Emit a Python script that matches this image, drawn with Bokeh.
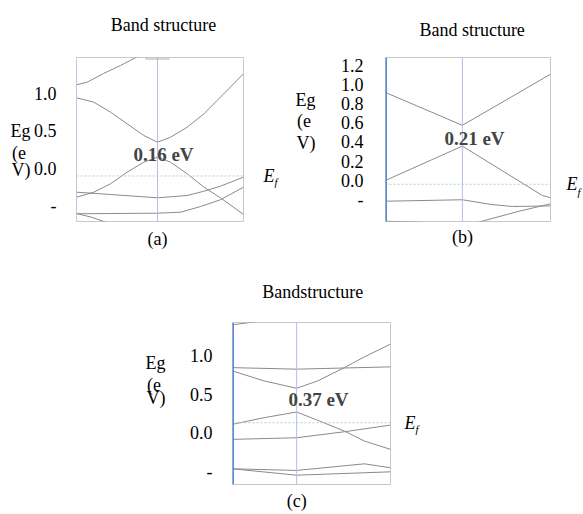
from bokeh.plotting import figure
from bokeh.models import Range1d, FixedTicker, Label, Span, Spacer, LinearAxis
from bokeh.layouts import column, row
from bokeh.embed import file_html
from bokeh.resources import INLINE

SERIF = "Liberation Serif"

# ---------------- data ----------------
# panel (a)
A_TITLE = "Band structure"
A_GAP = "0.16 eV"
A_TICKS = [-0.5, 0.0, 0.5, 1.0]
A_TICK_LABELS = ["-", "0.0", "0.5", "1.0"]
A_YLIM = [-0.707, 1.48]
A_GAMMA = 0.485
A_EF = -0.1
A1_K = [0.0, 0.064, 0.162, 0.263, 0.353, 0.42]
A1_E = [1.116, 1.151, 1.267, 1.373, 1.476, 1.56]
A2_K = [0.0, 0.104, 0.204, 0.303, 0.403, 0.485, 0.563, 0.663, 0.763, 0.862, 1.0]
A2_E = [0.943, 0.884, 0.751, 0.596, 0.44, 0.35, 0.417, 0.551, 0.729, 0.951, 1.263]
A3_K = [0.0, 0.104, 0.204, 0.303, 0.403, 0.485, 0.563, 0.663, 0.763, 0.862, 1.0]
A3_E = [-0.383, -0.316, -0.204, -0.049, 0.084, 0.151, 0.084, -0.071, -0.249, -0.391, -0.613]
A4_K = [0.0, 0.204, 0.485, 0.663, 0.763, 0.862, 1.0]
A4_E = [-0.316, -0.347, -0.391, -0.36, -0.303, -0.236, -0.116]
A5_K = [0.0, 0.485, 0.623, 0.743, 0.862, 1.0]
A5_E = [-0.604, -0.596, -0.583, -0.507, -0.417, -0.249]
A6_K = [0.0, 0.09, 0.18]
A6_E = [-0.6, -0.65, -0.72]
A_YLABEL_POS = [0.5, 0.211, -0.025]
A_SUB_POS = -0.175
A_TITLE_K = 0.521

# panel (b)
B_TITLE = "Band structure"
B_GAP = "0.21 eV"
B_TICKS = [-0.2, 0.0, 0.2, 0.4, 0.6, 0.8, 1.0, 1.2]
B_TICK_LABELS = ["-", "0.0", "0.2", "0.4", "0.6", "0.8", "1.0", "1.2"]
B_YLIM = [-0.427, 1.278]
B_GAMMA = 0.466
B_EF = -0.04
B1_K = [0.0, 0.466, 1.0]
B1_E = [0.914, 0.573, 1.104]
B2_K = [0.0, 0.466, 0.95, 1.0]
B2_E = [0.0, 0.357, -0.156, -0.18]
B3_K = [0.0, 0.466, 0.64, 0.77, 1.0]
B3_E = [-0.216, -0.201, -0.25, -0.271, -0.265]
B4_K = [0.55, 0.81, 1.0]
B4_E = [-0.44, -0.32, -0.243]
B5_K = [0.0, 0.21, 0.3]
B5_E = [-0.424, -0.434, -0.45]
B_YLABEL_POS = [0.834, 0.619, 0.394]
B_SUB_POS = -0.12
B_TITLE_K = 0.525

# panel (c)
C_TITLE = "Bandstructure"
C_GAP = "0.37 eV"
C_TICKS = [-0.5, 0.0, 0.5, 1.0]
C_TICK_LABELS = ["-", "0.0", "0.5", "1.0"]
C_YLIM = [-0.673, 1.434]
C_GAMMA = 0.406
C_EF = 0.13
C1_K = [0.0, 0.159, 0.2]
C1_E = [1.404, 1.447, 1.47]
C2_K = [0.0, 0.406, 1.0]
C2_E = [0.847, 0.827, 0.857]
C3_K = [0.0, 0.2, 0.406, 0.539, 0.708, 0.835, 1.0]
C3_E = [0.804, 0.674, 0.579, 0.674, 0.847, 0.987, 1.153]
C4_K = [0.0, 0.2, 0.406, 0.539, 0.708, 0.835, 1.0]
C4_E = [0.11, 0.196, 0.27, 0.162, 0.022, -0.108, -0.216]
C5_K = [0.0, 0.406, 0.708, 1.0]
C5_E = [-0.086, -0.065, 0.013, 0.1]
C6_K = [0.0, 0.406, 0.835, 1.0]
C6_E = [-0.469, -0.49, -0.404, -0.456]
C7_K = [0.0, 0.406, 1.0]
C7_E = [-0.469, -0.552, -0.508]
C_YLABEL_POS = [0.907, 0.625, 0.45]
C_SUB_POS = 0.05
C_TITLE_K = 0.508

YLABEL_LINES = ["Eg", "(e\u00a0", "V)"]
PANEL_TAGS = ["(a)", "(b)", "(c)"]

BAND_COLOR = "#8a8a8a"


def style_axis(ax, ticks, labels, standoff, size="18px", style="normal"):
    ax.ticker = FixedTicker(ticks=ticks)
    ax.major_label_overrides = dict(zip(ticks, labels))
    ax.axis_line_color = None
    ax.major_tick_line_color = None
    ax.minor_tick_line_color = None
    ax.major_tick_in = 0
    ax.major_tick_out = 0
    ax.major_label_standoff = standoff
    ax.major_label_text_font = SERIF
    ax.major_label_text_font_size = size
    ax.major_label_text_font_style = style
    ax.major_label_text_color = "black"
    return ax


def panel(width, height, borders, ylim, ticks, labels, standoff, bands,
          gamma, ef, edge_color, edge_width, title, title_k, title_standoff,
          tag, tag_standoff, ylab_pos, ylab_standoff,
          ef_standoff, sub_pos, gap, gap_xy):
    p = figure(width=width, height=height, x_range=Range1d(0, 1),
               y_range=Range1d(ylim[0], ylim[1]), output_backend="svg",
               toolbar_location=None, min_border_left=borders[0],
               min_border_right=borders[1], min_border_top=borders[2],
               min_border_bottom=borders[3])
    p.grid.visible = False
    p.title.visible = False
    xa = p.below[0]
    ya = p.left[0]
    # energy tick labels
    style_axis(ya, ticks, labels, standoff)
    # panel tag under the Gamma point
    style_axis(xa, [gamma], [tag], tag_standoff)
    # panel heading above the frame
    p.add_layout(style_axis(LinearAxis(), [title_k], [title], title_standoff),
                 "above")
    # wrapped axis title "Eg (eV)"
    p.add_layout(style_axis(LinearAxis(), ylab_pos, YLABEL_LINES,
                            ylab_standoff), "left")
    # Fermi level label on the right
    p.add_layout(style_axis(LinearAxis(), [ef], ["E"], ef_standoff,
                            style="italic"), "right")
    if sub_pos is not None:
        p.add_layout(style_axis(LinearAxis(), [sub_pos], ["f"], -3,
                                size="11px", style="italic"), "right")

    p.outline_line_color = "#c8c8c8"
    p.background_fill_color = "white"
    p.border_fill_color = "white"
    p.add_layout(Span(location=ef, dimension="width", line_color="#a8dca8",
                      line_width=1, line_dash="2 2"))
    p.add_layout(Span(location=gamma, dimension="height", line_color="#b4bcf2",
                      line_width=1))
    p.add_layout(Span(location=0, dimension="height", line_color=edge_color,
                      line_width=edge_width))
    for k, e in bands:
        p.line(k, e, line_color=BAND_COLOR, line_width=1)
    p.add_layout(Label(x=gap_xy[0], y=gap_xy[1], x_units="screen",
                       y_units="screen", text=gap, text_font=SERIF,
                       text_font_size="19px", text_font_style="bold",
                       text_align="center", text_baseline="alphabetic"))
    return p


# ---------------- panel (a) ----------------
pa = panel(290, 258, (76, 47, 57, 37), A_YLIM, A_TICKS, A_TICK_LABELS, 20,
           [(A1_K, A1_E), (A2_K, A2_E), (A3_K, A3_E), (A4_K, A4_E),
            (A5_K, A5_E), (A6_K, A6_E)], A_GAMMA, A_EF, "#c0c6f4", 1,
           A_TITLE, A_TITLE_K, 23, PANEL_TAGS[0], 7, A_YLABEL_POS, 0, 20,
           A_SUB_POS, A_GAP, (87, 67))
pa.add_layout(Label(x=81, y=161, x_units="screen", y_units="screen",
                    text="Bandstructure", text_font=SERIF,
                    text_font_size="4.5px", text_align="center",
                    text_baseline="bottom", text_color="#9a9a9a"))

# ---------------- panel (b) ----------------
pb = panel(293, 258, (95, 31, 57, 37), B_YLIM, B_TICKS, B_TICK_LABELS, 22,
           [(B1_K, B1_E), (B2_K, B2_E), (B3_K, B3_E), (B4_K, B4_E),
            (B5_K, B5_E)], B_GAMMA, B_EF, "#5b8bd3", 3,
           B_TITLE, B_TITLE_K, 18, PANEL_TAGS[1], 5, B_YLABEL_POS, 22, 16,
           B_SUB_POS, B_GAP, (89, 83))

# ---------------- panel (c) ----------------
pc = panel(300, 256, (102, 40, 64, 30), C_YLIM, C_TICKS, C_TICK_LABELS, 20,
           [(C1_K, C1_E), (C2_K, C2_E), (C3_K, C3_E), (C4_K, C4_E),
            (C5_K, C5_E), (C6_K, C6_E), (C7_K, C7_E)], C_GAMMA, C_EF,
           "#5b8bd3", 3, C_TITLE, C_TITLE_K, 21, PANEL_TAGS[2], 6,
           C_YLABEL_POS, 21, 14, C_SUB_POS, C_GAP, (86, 85))

layout = column(row(pa, pb), row(Spacer(width=130, height=256), pc))
open("out.html", "w").write(file_html(layout, INLINE))
